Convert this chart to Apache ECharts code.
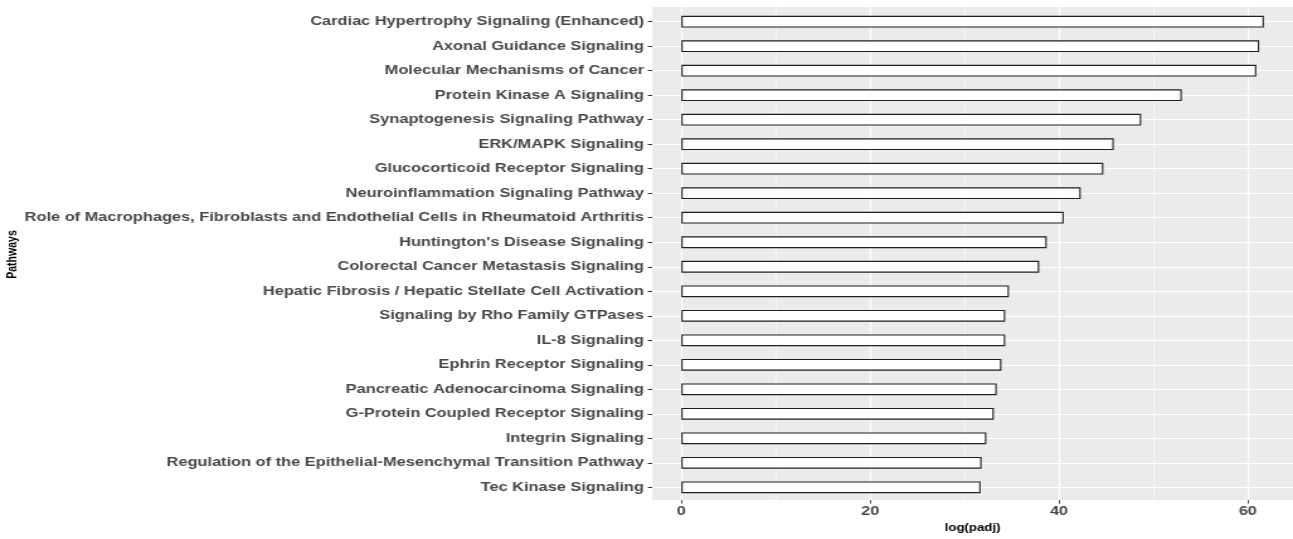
<!DOCTYPE html>
<html>
<head>
<meta charset="utf-8">
<script src="https://cdn.jsdelivr.net/npm/echarts@6/dist/echarts.min.js"></script>
<style>
  html, body { margin: 0; padding: 0; background: #ffffff; overflow: hidden; }
  /* the plot is laid out narrow and widened horizontally, giving the wide lettering */
  #chart { width: 1027px; height: 539px; transform: scaleX(1.259); transform-origin: 0 0; }
</style>
</head>
<body>
<div id="chart"></div>
<script>
// Pathways, listed top to bottom
const pathways = [
  'Cardiac Hypertrophy Signaling (Enhanced)',
  'Axonal Guidance Signaling',
  'Molecular Mechanisms of Cancer',
  'Protein Kinase A Signaling',
  'Synaptogenesis Signaling Pathway',
  'ERK/MAPK Signaling',
  'Glucocorticoid Receptor Signaling',
  'Neuroinflammation Signaling Pathway',
  'Role of Macrophages, Fibroblasts and Endothelial Cells in Rheumatoid Arthritis',
  "Huntington's Disease Signaling",
  'Colorectal Cancer Metastasis Signaling',
  'Hepatic Fibrosis / Hepatic Stellate Cell Activation',
  'Signaling by Rho Family GTPases',
  'IL-8 Signaling',
  'Ephrin Receptor Signaling',
  'Pancreatic Adenocarcinoma Signaling',
  'G-Protein Coupled Receptor Signaling',
  'Integrin Signaling',
  'Regulation of the Epithelial-Mesenchymal Transition Pathway',
  'Tec Kinase Signaling'
];

// log(padj) per pathway
const logPadj = [
  61.7, 61.2, 60.9, 53.0, 48.7, 45.8, 44.7, 42.3, 40.5, 38.7,
  37.9, 34.7, 34.3, 34.3, 33.9, 33.4, 33.1, 32.3, 31.8, 31.7
];

const xTicks = [0, 20, 40, 60];
const xMinorTicks = [10, 30, 50];

// continuous scale padded 5% on each side of [0, max]
const dataMax = Math.max(...logPadj);
const xMin = -0.05 * dataMax;
const xMax = 1.05 * dataMax;

const FONT = 'Liberation Sans, Arial, Helvetica, sans-serif';
const textStyle = { fontFamily: FONT, fontWeight: 'bold', fontSize: 13, color: '#474747' };
const titleStyle = { fontFamily: FONT, fontWeight: 'bold', fontSize: 10.5, color: '#000000' };
const hiddenLine = { show: true, onZero: false, lineStyle: { color: 'rgba(0,0,0,0)', width: 0 } };

const chart = echarts.init(document.getElementById('chart'));

const verticalLines = [
  ...xTicks.map(v => ({ xAxis: v, lineStyle: { color: '#ffffff', width: 1.2, type: 'solid' } })),
  ...xMinorTicks.map(v => ({ xAxis: v, lineStyle: { color: '#ffffff', width: 0.6, type: 'solid' } }))
];

chart.setOption({
  animation: false,
  grid: [
    // panel
    { left: 518, top: 7, width: 510, height: 495, show: true, backgroundColor: '#EBEBEB', borderWidth: 0 },
    // bars, with half-row padding at both ends
    { left: 518, top: 9.45, width: 510, height: 490.1 }
  ],
  xAxis: [
    {
      gridIndex: 0, type: 'value', min: xMin, max: xMax,
      axisLine: hiddenLine,
      splitLine: { show: false },
      axisTick: { show: true, customValues: xTicks, length: 3.5, lineStyle: { color: '#333333', width: 0.9 } },
      axisLabel: Object.assign({ customValues: xTicks, margin: 5 }, textStyle),
      name: 'log(padj)', nameLocation: 'middle', nameGap: 19,
      nameTextStyle: titleStyle
    },
    { gridIndex: 1, type: 'value', min: xMin, max: xMax, show: false }
  ],
  yAxis: [
    { gridIndex: 0, type: 'value', min: 0, max: 1, show: false },
    {
      gridIndex: 1, type: 'category', data: pathways, inverse: true,
      axisLine: hiddenLine,
      splitLine: { show: false },
      axisTick: { show: true, alignWithLabel: true, length: 3.5, lineStyle: { color: '#333333', width: 1 } },
      axisLabel: Object.assign({ interval: 0, margin: 6.5 }, textStyle),
      name: 'Pathways', nameLocation: 'middle', nameGap: 488, nameRotate: 90,
      nameTextStyle: titleStyle
    }
  ],
  series: [
    {
      type: 'scatter', xAxisIndex: 0, yAxisIndex: 0, data: [], silent: true,
      markLine: { silent: true, symbol: 'none', label: { show: false }, z: 1, data: verticalLines }
    },
    {
      type: 'bar', xAxisIndex: 1, yAxisIndex: 1, data: logPadj,
      barWidth: '48%', z: 3,
      itemStyle: { color: '#ffffff', borderColor: '#1f1f1f', borderWidth: 1.1 },
      markLine: {
        silent: true, symbol: 'none', label: { show: false }, z: 1,
        lineStyle: { color: '#ffffff', width: 1.2, type: 'solid' },
        data: pathways.map(p => ({ yAxis: p }))
      }
    }
  ]
});
</script>
</body>
</html>
